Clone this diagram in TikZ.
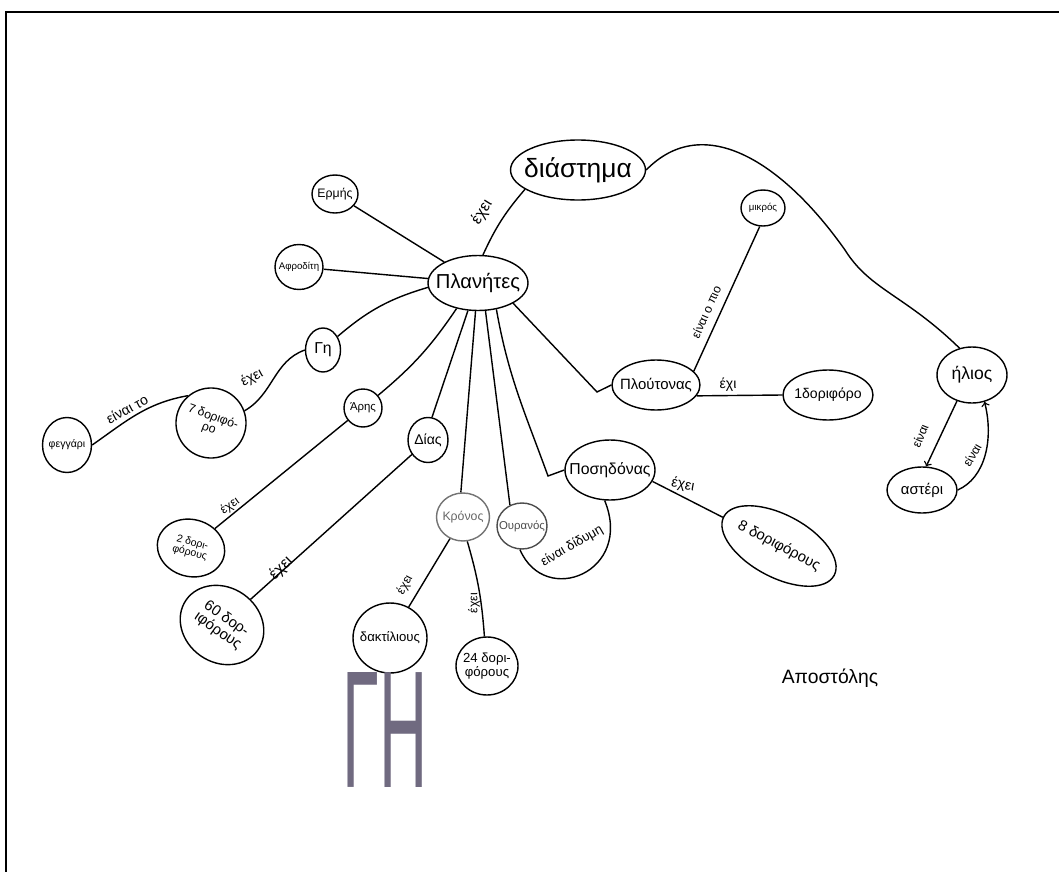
\documentclass[tikz,border=0pt]{standalone}
\usepackage{fontspec}
\setmainfont{Liberation Sans}
\usetikzlibrary{shapes.geometric}
\definecolor{ghcol}{RGB}{112,106,128}
\begin{document}
\begin{tikzpicture}[x=0.02cm, y=-0.02cm, line width=0.8pt,
 bubble/.style={shape=ellipse, draw, line width=0.8pt, inner sep=-40pt, align=center},
 txt/.style={font=\fontsize{#1}{#1}\selectfont},
 lbl/.style={inner sep=0pt, txt=#1},
]
\useasboundingbox[fill=white] (0,0) rectangle (1059,872);

%frame
\draw[line width=1.2pt] (6,872) -- (6,12) -- (1059,12);

%centre
\node[bubble, txt=15, minimum width=2.7cm, minimum height=1.2cm] (space) at (578,170) {διάστημα};
\node[bubble, txt=11.5, minimum width=2.0cm, minimum height=1.1cm] (planets) at (478,283) {Πλανήτες};

%planets
\node[bubble, txt=7, minimum width=0.92cm, minimum height=0.76cm] (hermes) at (335,194) {Ερμής};
\node[bubble, txt=5.5, minimum width=0.96cm, minimum height=0.9cm] (venus) at (299,267) {Αφροδίτη};
\node[bubble, txt=9, minimum width=0.7cm, minimum height=0.88cm] (earth) at (323,350) {Γη};
\node[bubble, txt=6.5, minimum width=0.76cm, minimum height=0.76cm] (mars) at (363,408) {Άρης};
\node[bubble, txt=8, minimum width=0.8cm, minimum height=0.9cm] (jupiter) at (428,440) {Δίας};
\node[bubble, txt=7, draw=black!55, text=black!60, minimum width=1.06cm, minimum height=0.96cm] (saturn) at (463,517) {Κρόνος};
\node[bubble, txt=6.5, draw=black!70, text=black!70, minimum width=1.0cm, minimum height=0.92cm] (uranus) at (522,526) {Ουρανός};
\node[bubble, txt=9, minimum width=1.8cm, minimum height=1.2cm] (neptune) at (610,470) {Ποσηδόνας};
\node[bubble, txt=8.5, minimum width=1.76cm, minimum height=1.0cm] (pluto) at (656,385) {Πλούτονας};

%moons and rings
\node[bubble, txt=7, rotate=-20, minimum width=1.4cm, minimum height=1.4cm] (moons7) at (211,423) {7 δοριφό-\\ρο};
\node[bubble, txt=6, minimum width=0.98cm, minimum height=1.1cm] (moon) at (67,445) {φεγγάρι};
\node[bubble, txt=6, rotate=-15, minimum width=1.36cm, minimum height=1.14cm] (moons2) at (191,548) {2 δορι-\\φόρους};
\node[bubble, txt=8.5, rotate=-35, minimum width=1.75cm, minimum height=1.5cm] (moons60) at (222,625) {60 δορ-\\ιφόρους};
\node[bubble, txt=7.5, minimum width=1.48cm, minimum height=1.4cm] (rings) at (390,638) {δακτίλιους};
\node[bubble, txt=7.5, minimum width=1.24cm, minimum height=1.16cm] (moons24) at (487,666) {24 δορι-\\φόρους};
\node[bubble, txt=8.5, rotate=-28, minimum width=2.5cm, minimum height=1.25cm] (moons8) at (779,546) {8 δοριφόρους};
\node[bubble, txt=5.5, minimum width=0.88cm, minimum height=0.72cm] (small) at (763,208) {μικρός};
\node[bubble, txt=8, minimum width=1.8cm, minimum height=1.0cm] (moon1) at (828,395) {1δοριφόρο};

%sun
\node[bubble, txt=10, minimum width=1.4cm, minimum height=1.12cm] (sun) at (972,375) {ήλιος};
\node[bubble, txt=8.5, minimum width=1.4cm, minimum height=0.92cm] (star) at (922,490) {αστέρι};

%links
\draw (planets.80) to[bend left=8] (space.200);
\draw (space.east) .. controls (705,110) and (785,165) .. (845,250)
 .. controls (870,290) and (905,295) .. (sun.115);
\draw (hermes) -- (planets);
\draw (venus) -- (planets);
\draw (earth) to[bend left=12] (planets.185);
\draw (mars.40) to[bend right=8] (planets.-130);
\draw (jupiter.80) -- (planets.-110);
\draw (saturn.95) -- (planets.-95);
\draw (uranus.120) -- (planets.-75);
\draw (neptune.west) -- (548,476) to[out=110, in=-80] (planets.-55);
\draw (planets.-30) -- (597,392) -- (pluto.west);

\draw (earth.west) to[out=200, in=30] (moons7.40);
\draw (moon.east) to[out=35, in=190] (moons7.150);
\draw (mars) -- (moons2);
\draw (jupiter) -- (moons60);
\draw (saturn) -- (rings);
\draw (saturn.-80) to[bend left=6] (moons24.95);
\draw (neptune.-15) -- (moons8);
\draw (neptune.-100) .. controls (634,572) and (545,608) .. (uranus.-95);
\draw (pluto.20) -- (small.-100);
\draw (pluto.-15) -- (moon1.west);
\draw[->] (sun.-120) -- (star.80);
\draw[->] (star.east) .. controls (985,478) and (994,440) .. (sun.-65);

%link labels
\node[lbl=9, rotate=58] (l1) at (482,212) {έχει};
\node[lbl=8, rotate=28] (l2) at (252,378) {έχει};
\node[lbl=8, rotate=28] (l3) at (127,409) {είναι το};
\node[lbl=7, rotate=35] (l4) at (230,506) {έχει};
\node[lbl=9, rotate=45] (l5) at (281,568) {έχει};
\node[lbl=7, rotate=62] (l6) at (405,585) {έχει};
\node[lbl=7, rotate=90] (l7) at (474,603) {έχει};
\node[lbl=7.5, rotate=30] (l8) at (572,546) {είναι δίδυμη};
\node[lbl=8, rotate=-10] (l9) at (683,485) {έχει};
\node[lbl=7, rotate=66] (l10) at (706,312) {είναι ο πιο};
\node[lbl=8] (l11) at (728,385) {έχι};
\node[lbl=7, rotate=68] (l12) at (920,436) {είναι};
\node[lbl=7, rotate=60] (l13) at (972,455) {είναι};

%title and name
\node[text=ghcol, inner sep=0pt] (gh) at (385,730) {\resizebox{1.7cm}{2.3cm}{ΓΗ}};
\node[txt=11] (name) at (830,678) {Αποστόλης};
\end{tikzpicture}
\end{document}
